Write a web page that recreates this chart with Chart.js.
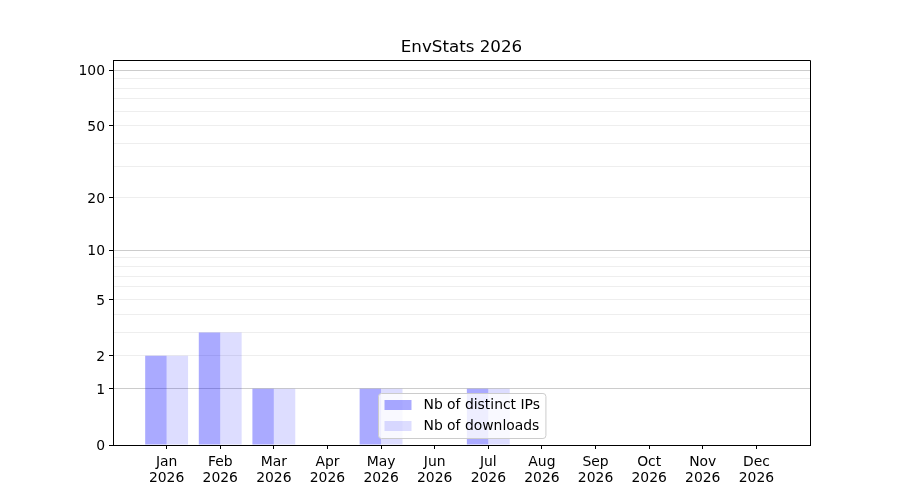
<!DOCTYPE html>
<html lang="en">
<head>
    <meta charset="UTF-8">
    <title>EnvStats 2026</title>
    <script src="https://cdn.jsdelivr.net/npm/chart.js"></script>
    <style>
        body { margin: 0; background: #fff; }
        #wrap { width: 900px; height: 500px; }
    </style>
</head>
<body>
    <div id="wrap"><canvas id="statsChart"></canvas></div>

    <script>
        // Monthly values
        const months = ['Jan', 'Feb', 'Mar', 'Apr', 'May', 'Jun', 'Jul', 'Aug', 'Sep', 'Oct', 'Nov', 'Dec'];
        const year = '2026';
        const distinctIps = [2, 3, 1, 0, 1, 0, 1, 0, 0, 0, 0, 0];
        const downloads = [2, 3, 1, 0, 1, 0, 1, 0, 0, 0, 0, 0];
        const seriesNames = ['Nb of distinct IPs', 'Nb of downloads'];

        // y axis ticks (log(1 + x) scale)
        const yTicks = [0, 1, 2, 3, 4, 5, 6, 7, 8, 9, 10, 20, 30, 40, 50, 60, 70, 80, 90, 100];
        const yTickLabels = [0, 1, 2, 5, 10, 20, 50, 100];
        const yMajorGrid = [1, 10, 100];
        const yMax = 113.5;

        const FONT = 'DejaVu Sans';

        // scale that places values at log10(1 + v)
        class Log1pScale extends Chart.Scale {
            static id = 'log1p';
            static defaults = {};

            determineDataLimits() {
                const { max } = this.getMinMax(false);
                this.min = Number.isFinite(this.options.min) ? this.options.min : 0;
                this.max = Number.isFinite(this.options.max) ? this.options.max : max;
            }

            buildTicks() {
                return yTicks.filter(v => v >= this.min && v <= this.max).map(v => ({ value: v }));
            }

            configure() {
                super.configure();
                this._startValue = Math.log10(1 + this.min);
                this._valueRange = Math.log10(1 + this.max) - this._startValue;
            }

            getLabelForValue(value) {
                return String(value);
            }

            getPixelForValue(value) {
                if (value === null || value === undefined || isNaN(value)) {
                    return NaN;
                }
                return this.getPixelForDecimal((Math.log10(1 + value) - this._startValue) / this._valueRange);
            }

            getValueForPixel(pixel) {
                const dec = this.getDecimalForPixel(pixel);
                return Math.pow(10, this._startValue + dec * this._valueRange) - 1;
            }
        }
        Chart.register(Log1pScale);

        // closes the box on the top and right sides, title over the plot centre
        const frame = {
            id: 'frame',
            afterDatasetsDraw(chart) {
                const { ctx, chartArea: a } = chart;
                ctx.save();
                ctx.strokeStyle = '#000';
                ctx.lineWidth = 1;
                ctx.beginPath();
                ctx.moveTo(Math.round(a.left) + 0.5, Math.round(a.top) + 0.5);
                ctx.lineTo(Math.round(a.right) + 0.5, Math.round(a.top) + 0.5);
                ctx.lineTo(Math.round(a.right) + 0.5, Math.round(a.bottom) + 0.5);
                ctx.stroke();

                ctx.fillStyle = '#000';
                ctx.font = '16.7px "' + FONT + '"';
                ctx.textAlign = 'center';
                ctx.textBaseline = 'alphabetic';
                ctx.fillText('EnvStats ' + year, (a.left + a.right) / 2, a.top - 8);
                ctx.restore();
            }
        };

        // legend box at the lower centre of the plot
        const boxLegend = {
            id: 'boxLegend',
            afterDraw(chart) {
                const { ctx, chartArea: a } = chart;
                const sets = chart.data.datasets;
                ctx.save();
                ctx.font = '13.9px "' + FONT + '"';
                const textW = Math.max(...sets.map(d => ctx.measureText(d.label).width));
                const w = 6 + 27 + 12 + textW + 6;
                const h = 45;
                const x = Math.round((a.left + a.right) / 2 - w / 2) + 0.5;
                const y = Math.round(a.bottom - 7 - h) + 0.5;

                ctx.beginPath();
                ctx.roundRect(x, y, w, h, 3);
                ctx.fillStyle = 'rgba(255,255,255,0.8)';
                ctx.fill();
                ctx.strokeStyle = '#cccccc';
                ctx.lineWidth = 1;
                ctx.stroke();

                ctx.textBaseline = 'middle';
                sets.forEach((d, i) => {
                    const rowY = y + 11.5 + i * 21;
                    ctx.fillStyle = d.backgroundColor;
                    ctx.fillRect(x + 6, rowY - 5, 27, 10);
                    ctx.fillStyle = '#000';
                    ctx.fillText(d.label, x + 6 + 27 + 12, rowY);
                });
                ctx.restore();
            }
        };

        const ctx = document.getElementById('statsChart').getContext('2d');
        new Chart(ctx, {
            type: 'bar',
            data: {
                datasets: [{
                    label: seriesNames[0],
                    data: distinctIps.map((v, i) => ({ x: i, y: v })),
                    backgroundColor: 'rgba(0,0,255,0.333)',
                    borderWidth: 0
                }, {
                    label: seriesNames[1],
                    data: downloads.map((v, i) => ({ x: i, y: v })),
                    backgroundColor: 'rgba(0,0,255,0.133)',
                    borderWidth: 0
                }]
            },
            options: {
                responsive: true,
                maintainAspectRatio: false,
                animation: false,
                categoryPercentage: 0.8,
                barPercentage: 1.0,
                layout: { padding: { left: 0, right: 90, top: 60, bottom: 0 } },
                plugins: {
                    legend: { display: false },
                    tooltip: { enabled: false },
                    title: { display: false }
                },
                scales: {
                    x: {
                        type: 'linear',
                        min: -1,
                        max: 12,
                        offset: false,
                        afterBuildTicks: axis => {
                            axis.ticks = months.map((m, i) => ({ value: i }));
                        },
                        afterFit: axis => { axis.height = 55; },
                        grid: {
                            offset: false,
                            drawOnChartArea: false,
                            drawTicks: true,
                            tickLength: 4,
                            tickColor: '#000'
                        },
                        border: { display: true, color: '#000', width: 1 },
                        ticks: {
                            autoSkip: false,
                            maxRotation: 0,
                            padding: 5,
                            color: '#000',
                            font: { family: FONT, size: 13.9, lineHeight: 1.15 },
                            callback: v => [months[v], year]
                        }
                    },
                    y: {
                        type: 'log1p',
                        min: 0,
                        max: yMax,
                        afterFit: axis => { axis.width = 113; },
                        grid: {
                            drawTicks: true,
                            tickLength: 4,
                            color: c => {
                                const v = c.tick ? c.tick.value : 0;
                                if (v === 0) return 'rgba(0,0,0,0)';
                                return yMajorGrid.includes(v) ? '#cccccc' : '#eeeeee';
                            },
                            tickColor: c => (c.tick && yTickLabels.includes(c.tick.value)) ? '#000' : 'rgba(0,0,0,0)'
                        },
                        border: { display: true, color: '#000', width: 1 },
                        ticks: {
                            autoSkip: false,
                            padding: 4,
                            labelOffset: 1.5,
                            color: '#000',
                            font: { family: FONT, size: 13.9 },
                            callback: v => yTickLabels.includes(v) ? String(v) : ''
                        }
                    }
                }
            },
            plugins: [frame, boxLegend]
        });
    </script>
</body>
</html>
